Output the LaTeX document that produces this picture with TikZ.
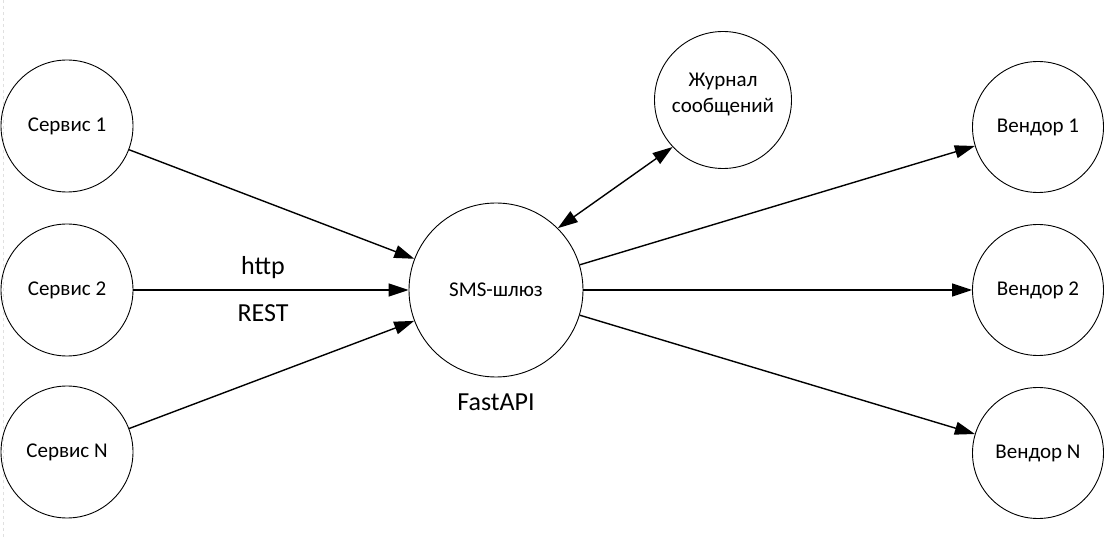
\documentclass[tikz,border=0pt]{standalone}
\usepackage{fontspec}
\setmainfont{Carlito}
\usetikzlibrary{arrows.meta}
\begin{document}
\begin{tikzpicture}[x=1pt,y=-1pt,
  circ/.style={draw, circle, line width=0.9pt, inner sep=0pt, align=center, font=\fontsize{21}{26}\selectfont},
  conn/.style={line width=1.4pt, -{Triangle[length=20pt,width=13pt]}},
  biconn/.style={line width=1.4pt, {Triangle[length=20pt,width=13pt]}-{Triangle[length=20pt,width=13pt]}},
  lbl/.style={font=\fontsize{26}{30}\selectfont}]
\useasboundingbox (0,0) rectangle (1120,537);
\draw[black!12, dashed, line width=0.8pt] (3,0) -- (3,537);
\node[circ, minimum size=132pt] (s1) at (67,126) {Сервис 1};
\node[circ, minimum size=132pt] (s2) at (67,290) {Сервис 2};
\node[circ, minimum size=132pt] (sn) at (67,452) {Сервис N};
\node[circ, minimum size=174pt] (gw) at (496,290) {SMS-шлюз};
\node[circ, minimum size=137pt] (log) at (723,100) {};
\node[font=\fontsize{21}{26}\selectfont, align=center] (logtxt) at (723,94) {Журнал\\сообщений};
\node[circ, minimum size=131pt] (v1) at (1038,127) {Вендор 1};
\node[circ, minimum size=131pt] (v2) at (1038,290) {Вендор 2};
\node[circ, minimum size=131pt] (vn) at (1038,453) {Вендор N};
\draw[conn] (s1) -- (gw);
\draw[conn] (s2) -- (gw);
\draw[conn] (sn) -- (gw);
\draw[conn] (gw) -- (v1);
\draw[conn] (gw) -- (v2);
\draw[conn] (gw) -- (vn);
\draw[biconn] (gw.45) -- (log.223);
\node[lbl] (http) at (263,268) {http};
\node[lbl] (rest) at (263,313) {REST};
\node[lbl] (fast) at (496,402) {FastAPI};
\end{tikzpicture}
\end{document}
